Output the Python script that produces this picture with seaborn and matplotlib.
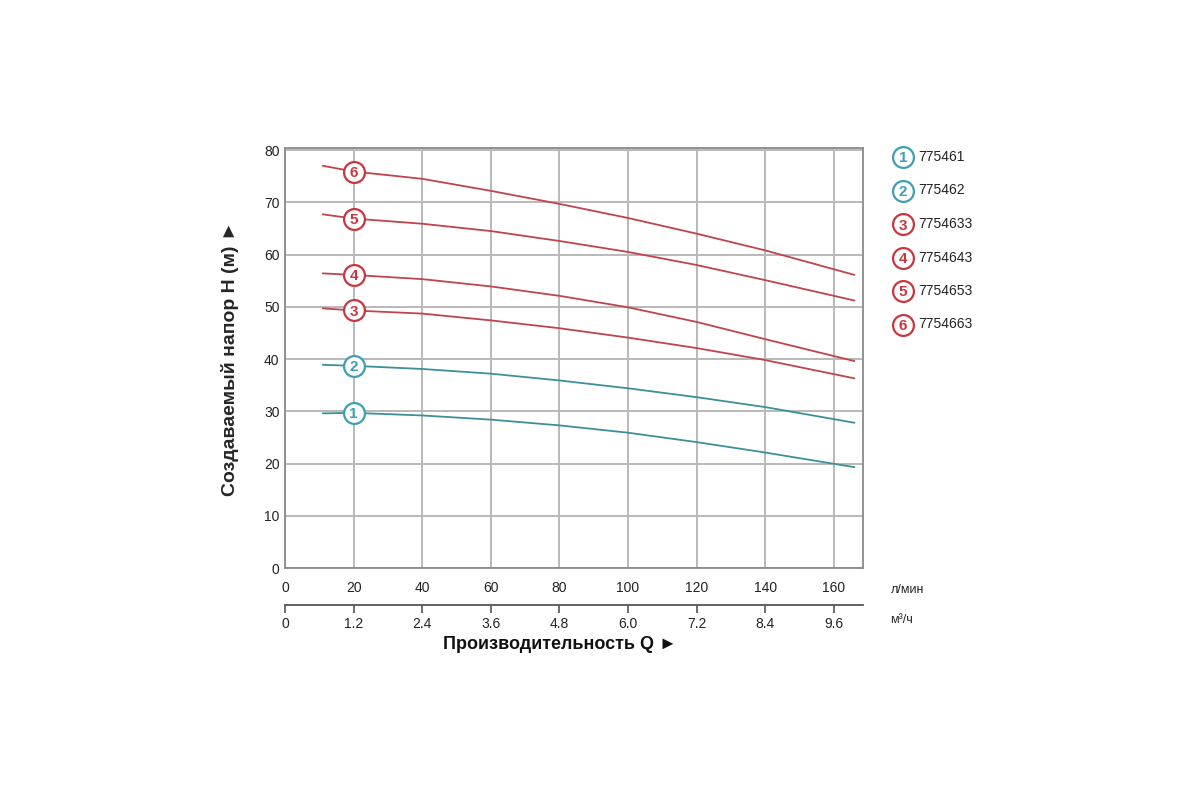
import numpy as np
import pandas as pd
import matplotlib
matplotlib.use("Agg")
import matplotlib.pyplot as plt
from matplotlib.lines import Line2D
import seaborn as sns

flow_lpm = [11, 20, 40, 60, 80, 100, 120, 140, 166]
head_1 = [29.6, 29.7, 29.2, 28.4, 27.3, 25.9, 24.1, 22.1, 19.3]
head_2 = [38.9, 38.7, 38.1, 37.2, 35.9, 34.4, 32.7, 30.8, 27.8]
head_3 = [49.7, 49.3, 48.7, 47.4, 45.9, 44.1, 42.1, 39.8, 36.3]
head_4 = [56.4, 56.1, 55.3, 53.9, 52.1, 49.9, 47.1, 43.8, 39.6]
head_5 = [67.7, 66.9, 65.9, 64.5, 62.6, 60.5, 58.0, 55.1, 51.2]
head_6 = [77.0, 75.9, 74.5, 72.2, 69.7, 67.0, 64.0, 60.8, 56.1]

models = ["775461", "775462", "7754633", "7754643", "7754653", "7754663"]
curve_ids = ["1", "2", "3", "4", "5", "6"]
marker_flow = 20

lpm_ticks = [0, 20, 40, 60, 80, 100, 120, 140, 160]
m3h_labels = ["0", "1.2", "2.4", "3.6", "4.8", "6.0", "7.2", "8.4", "9.6"]
y_ticks = [0, 10, 20, 30, 40, 50, 60, 70, 80]

teal = "#3c8f9c"
red = "#c0444c"
teal_mark = "#3d9fb3"
red_mark = "#c9363d"
colors = [teal, teal, red, red, red, red]
mark_colors = [teal_mark, teal_mark, red_mark, red_mark, red_mark, red_mark]

heads = [head_1, head_2, head_3, head_4, head_5, head_6]
df = pd.concat(
    [pd.DataFrame({"flow": flow_lpm, "head": h, "curve": cid})
     for h, cid in zip(heads, curve_ids)],
    ignore_index=True,
)

sns.set_style("white")
plt.rcParams["font.family"] = ["Liberation Sans", "DejaVu Sans"]

fig = plt.figure(figsize=(12, 8), dpi=100)
ax = fig.add_axes([0.2375, 0.29, 0.4817, 0.525])

sns.lineplot(data=df, x="flow", y="head", hue="curve", palette=colors,
             linewidth=1.3, legend=False, ax=ax, sort=True)

# numbered circle markers on the curves at 20 l/min
for h, cid, mc in zip(heads, curve_ids, mark_colors):
    yv = h[flow_lpm.index(marker_flow)]
    ax.plot(marker_flow, yv, "o", ms=15, mfc="white", mec=mc, mew=1.6, zorder=5)
    ax.text(marker_flow, yv, cid, ha="center", va="center_baseline", fontsize=11,
            color=mc, fontweight="bold", zorder=6)

ax.set_xlim(0, 168.5)
ax.set_ylim(0, 80.4)
ax.set_xticks(lpm_ticks)
ax.set_yticks(y_ticks)
ax.grid(True, color="#b9b9b9", linewidth=1.4)
ax.tick_params(axis="both", length=0, labelsize=10, colors="#222222")
ax.tick_params(axis="x", pad=9)
ax.tick_params(axis="y", pad=4)
for s in ax.spines.values():
    s.set_color("#8a8a8a")
    s.set_linewidth(1.3)
ax.set_xlabel("")
ax.set_ylabel("Создаваемый напор H (м) ►", fontsize=14, fontweight="bold",
              labelpad=18)

# second flow scale in m3/h
ax2 = fig.add_axes([0.2375, 0.244, 0.4817, 0.0001])
ax2.set_xlim(0, 168.5)
ax2.set_xticks(lpm_ticks)
ax2.set_xticklabels(m3h_labels)
ax2.set_yticks([])
for side in ["top", "left", "right"]:
    ax2.spines[side].set_visible(False)
ax2.spines["bottom"].set_color("#555555")
ax2.spines["bottom"].set_linewidth(1.3)
ax2.tick_params(axis="x", bottom=True, direction="out", length=6, width=1.2,
                color="#555555", labelsize=10, pad=3, labelcolor="#222222")
ax2.set_facecolor("none")

fig.text(0.742, 0.263, "л/мин", fontsize=9, ha="left", va="center", color="#222222")
fig.text(0.742, 0.225, "м³/ч", fontsize=9, ha="left", va="center", color="#222222")
fig.text(0.467, 0.194, "Производительность Q ►", fontsize=13, fontweight="bold",
         ha="center", va="center", color="#111111")

# legend of numbered circles
for i, (cid, name, mc) in enumerate(zip(curve_ids, models, mark_colors)):
    yy = 1 - (157 + i * 33.5) / 800
    fig.lines.append(Line2D([903 / 1200], [yy], marker="o", ms=15,
                            mfc="white", mec=mc, mew=1.6,
                            transform=fig.transFigure))
    fig.text(903 / 1200, yy, cid, fontsize=11, color=mc, fontweight="bold",
             ha="center", va="center_baseline")
    fig.text(918 / 1200, yy, name, fontsize=10, color="#222222", ha="left",
             va="center")

fig.savefig("out.png", dpi=100)
